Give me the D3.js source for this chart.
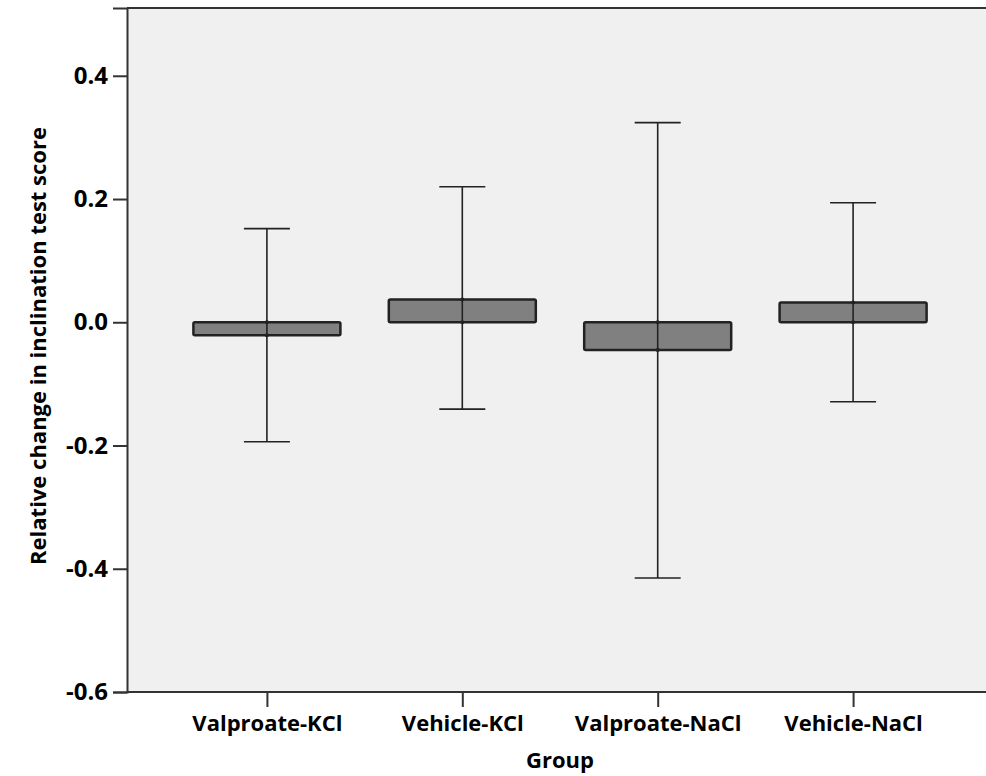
<!DOCTYPE html>
<html>
<head>
<meta charset="utf-8">
<script src="https://cdn.jsdelivr.net/npm/d3@7"></script>
<style>
	body { margin: 0; background: #fff; }
	text { font-family: "Open Sans", "Noto Sans", sans-serif; font-weight: bold; fill: #000; }
</style>
</head>
<body>
<svg id="chart" width="986" height="776"></svg>
<script>
// values: group means and error bar ends
const groups = ['Valproate-KCl', 'Vehicle-KCl', 'Valproate-NaCl', 'Vehicle-NaCl'];
const means = [-0.021, 0.037, -0.045, 0.032];
const lower = [-0.194, -0.141, -0.415, -0.129];
const upper = [0.152, 0.220, 0.324, 0.194];
const yTicks = [-0.6, -0.4, -0.2, 0.0, 0.2, 0.4];

const data = groups.map((g, i) => ({ group: g, mean: means[i], lo: lower[i], hi: upper[i] }));

const svg = d3.select('#chart');
const plotLeft = 127, plotTop = 8, plotBottom = 692;

const y = d3.scaleLinear()
	.domain([-0.6, 0.51])
	.range([plotBottom, plotTop]);

// the plot runs a little past the right edge of the picture
const x = d3.scalePoint()
	.domain(groups)
	.range([plotLeft, 993])
	.padding(0.716);

// plot background
svg.append('rect')
	.attr('x', plotLeft)
	.attr('y', plotTop)
	.attr('width', 986 - plotLeft)
	.attr('height', plotBottom - plotTop)
	.attr('fill', '#f0f0f0');

svg.append('line')
	.attr('x1', plotLeft).attr('x2', 986)
	.attr('y1', plotTop).attr('y2', plotTop)
	.attr('stroke', '#333').attr('stroke-width', 2);

// y axis (hyphen minus like the original)
const yAxis = svg.append('g')
	.attr('transform', `translate(${plotLeft},0)`)
	.call(d3.axisLeft(y).tickValues(yTicks).tickFormat(d => d.toFixed(1)).tickSize(14).tickPadding(5));
yAxis.select('.domain').attr('stroke', '#333').attr('stroke-width', 2);
yAxis.selectAll('.tick line').attr('stroke', '#333').attr('stroke-width', 2);
yAxis.selectAll('.tick text').attr('font-size', 24).attr('fill', '#000');

// x axis
const xAxis = svg.append('g')
	.attr('transform', `translate(0,${plotBottom})`)
	.call(d3.axisBottom(x).tickSize(15).tickPadding(8).tickSizeOuter(0));
xAxis.select('.domain').attr('stroke', '#333').attr('stroke-width', 2)
	.attr('d', `M${plotLeft},0H986`);
xAxis.selectAll('.tick line').attr('stroke', '#333').attr('stroke-width', 2);
xAxis.selectAll('.tick text').attr('font-size', 22).attr('fill', '#000');

// bars from zero to mean
const bw = 147;
svg.append('g').selectAll('rect')
	.data(data)
	.enter()
	.append('rect')
	.attr('x', d => x(d.group) - bw / 2)
	.attr('y', d => y(Math.max(0, d.mean)))
	.attr('width', bw)
	.attr('height', d => Math.abs(y(d.mean) - y(0)))
	.attr('rx', 1.5)
	.attr('fill', '#808080')
	.attr('stroke', '#222')
	.attr('stroke-width', 2.5);

// error bars
const cap = 46;
const err = svg.append('g').selectAll('g')
	.data(data)
	.enter()
	.append('g')
	.attr('stroke', '#222')
	.attr('stroke-width', 1.6);

err.append('line')
	.attr('x1', d => x(d.group)).attr('x2', d => x(d.group))
	.attr('y1', d => y(d.hi)).attr('y2', d => y(d.lo));
err.append('line')
	.attr('x1', d => x(d.group) - cap / 2).attr('x2', d => x(d.group) + cap / 2)
	.attr('y1', d => y(d.hi)).attr('y2', d => y(d.hi));
err.append('line')
	.attr('x1', d => x(d.group) - cap / 2).attr('x2', d => x(d.group) + cap / 2)
	.attr('y1', d => y(d.lo)).attr('y2', d => y(d.lo));

// little dots where the whisker crosses the bar edges
svg.append('g').selectAll('circle')
	.data(data.flatMap(d => [{ group: d.group, v: 0 }, { group: d.group, v: d.mean }]))
	.enter()
	.append('circle')
	.attr('cx', d => x(d.group))
	.attr('cy', d => y(d.v))
	.attr('r', 2)
	.attr('fill', '#222');

// axis titles
svg.append('text')
	.attr('x', 560)
	.attr('y', 768)
	.attr('text-anchor', 'middle')
	.attr('font-size', 22)
	.text('Group');

svg.append('text')
	.attr('transform', 'translate(46,346) rotate(-90)')
	.attr('text-anchor', 'middle')
	.attr('font-size', 22)
	.text('Relative change in inclination test score');
</script>
</body>
</html>
